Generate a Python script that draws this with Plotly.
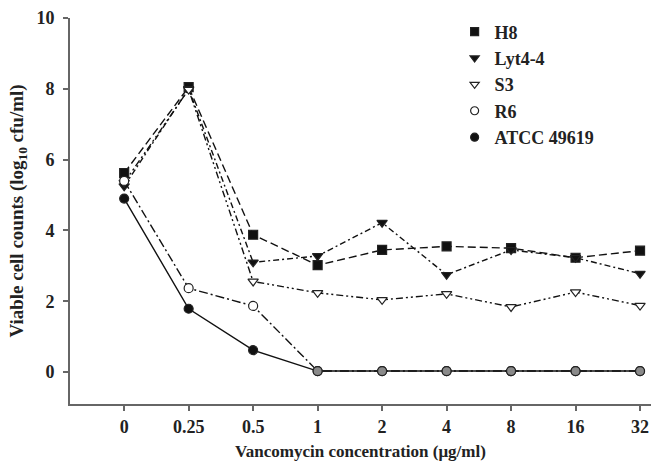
import plotly.graph_objects as go

concentrations = ["0", "0.25", "0.5", "1", "2", "4", "8", "16", "32"]
h8 = [5.62, 8.05, 3.88, 3.02, 3.45, 3.55, 3.5, 3.23, 3.43]
lyt4_4 = [5.25, 8.0, 3.1, 3.28, 4.22, 2.75, 3.45, 3.23, 2.78]
s3 = [5.35, 7.98, 2.56, 2.24, 2.04, 2.21, 1.84, 2.26, 1.88]
r6 = [5.4, 2.37, 1.87, 0.03, 0.03, 0.03, 0.03, 0.03, 0.03]
atcc = [4.9, 1.79, 0.62, 0.03, 0.03, 0.03, 0.03, 0.03, 0.03]

series = [
    ("H8", h8, "square", "#111", "8px,4px"),
    ("Lyt4-4", lyt4_4, "triangle-down", "#111", "6px,3px,2px,3px"),
    ("S3", s3, "triangle-down", "white", "7px,3px,2px,3px,2px,3px"),
    ("R6", r6, "circle", "white", "9px,3px,2px,3px"),
    ("ATCC 49619", atcc, "circle", "#111", "solid"),
]

xpos = list(range(len(concentrations)))
fig = go.Figure()
for name, vals, sym, fill, dash in series:
    if name == "ATCC 49619":
        mcolors = ["#111" if v > 0.1 else "#8a8a8a" for v in vals]
    else:
        mcolors = fill
    fig.add_trace(go.Scatter(
        x=xpos, y=vals, mode="lines+markers", name=name, showlegend=False,
        line=dict(color="#111", width=1.4, dash=dash),
        marker=dict(symbol=sym, size=9, color=mcolors,
                    line=dict(color="#222", width=1.2)),
    ))
    # legend-only entry (marker only)
    fig.add_trace(go.Scatter(
        x=[None], y=[None], mode="markers", name=name, showlegend=True,
        marker=dict(symbol=sym, size=8, color=fill,
                    line=dict(color="#222", width=1.2)),
    ))

font_family = "Liberation Serif, Times New Roman, serif"
fig.update_layout(
    width=651, height=469,
    margin=dict(l=70, r=0, t=18, b=65),
    plot_bgcolor="white", paper_bgcolor="white",
    font=dict(family=font_family, color="#111", size=16),
    legend=dict(x=0.662, y=1.012, xanchor="left", yanchor="top",
                font=dict(family=font_family, size=18, color="#222", weight="bold"),
                bgcolor="rgba(0,0,0,0)", tracegroupgap=0, itemwidth=30),
    xaxis=dict(
        range=[-0.84, 8.17], tickmode="array", tickvals=xpos, ticktext=concentrations,
        showgrid=False, zeroline=False, showline=True, linecolor="#666", linewidth=2,
        ticks="outside", ticklen=5, tickcolor="#666", tickwidth=2,
        tickfont=dict(family=font_family, size=18, color="#222", weight="bold"),
        title=dict(text="Vancomycin concentration (μg/ml)",
                   font=dict(family=font_family, size=17, color="#222", weight="bold"),
                   standoff=10),
    ),
    yaxis=dict(
        range=[-0.9, 10], tickmode="array", tickvals=[0, 2, 4, 6, 8, 10],
        showgrid=False, zeroline=False, showline=True, linecolor="#666", linewidth=2,
        ticks="outside", ticklen=5, tickcolor="#666", tickwidth=2, ticklabelstandoff=5,
        tickfont=dict(family=font_family, size=18, color="#222", weight="bold"),
        title=dict(text="Viable cell counts (log<sub>10</sub> cfu/ml)",
                   font=dict(family=font_family, size=19, color="#222", weight="bold"),
                   standoff=8),
    ),
)
fig.write_html("out.html")
